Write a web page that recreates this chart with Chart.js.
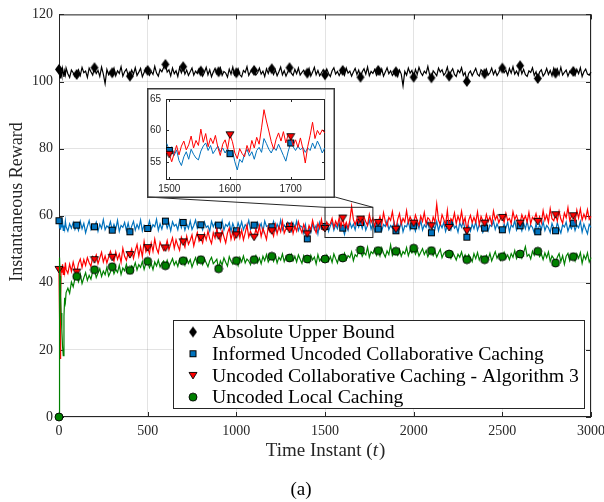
<!DOCTYPE html>
<html>
<head>
<meta charset="utf-8">
<script src="https://cdn.jsdelivr.net/npm/chart.js@4.4.0/dist/chart.umd.min.js"></script>
<style>
  body { margin: 0; background: #fff; }
  #wrap { position: relative; width: 604px; height: 502px; }
  #main { position: absolute; left: 0; top: 0; }
  #inset { position: absolute; left: 147px; top: 88px; }
</style>
</head>
<body>
<div id="wrap">
  <canvas id="main" width="604" height="502"></canvas>
  <canvas id="inset" width="188" height="110"></canvas>
</div>
<script>
// sample times: a few dense ones at the start, then one every 10 from t = 100
const earlyTimes = [0, 3, 6, 9, 12, 16, 20, 24, 28, 32, 36, 40, 50, 60, 70, 80, 90];
const stepTime = 10;

const xTicks = [0, 500, 1000, 1500, 2000, 2500, 3000];
const yTicks = [0, 20, 40, 60, 80, 100, 120];
const insetXTicks = [1500, 1600, 1700];
const insetYTicks = [55, 60, 65];

const seriesNames = [
  'Absolute Upper Bound',
  'Informed Uncoded Collaborative Caching',
  'Uncoded Collaborative Caching - Algorithm 3',
  'Uncoded Local Caching'
];

const upperBound = [
  103.6, 102.2, 101.1, 103.8, 102.5, 101.6, 103.9, 102.8, 101.4, 103.1, 102.0, 104.0, 102.3, 101.2, 103.4, 102.6, 101.5,
  102.1, 103.5, 101.8, 104.2, 102.6, 103.1, 101.2, 104.0, 102.9, 101.9,
  104.1, 102.4, 103.3, 101.5, 104.3, 102.2, 99.4, 103.6, 102.0, 103.0,
  102.6, 104.0, 101.7, 103.2, 102.4, 104.4, 101.6, 102.9, 103.7, 101.9,
  101.6, 103.4, 102.2, 104.1, 101.8, 102.8, 103.9, 101.4, 102.7, 104.0,
  103.3, 101.9, 103.0, 102.1, 104.5, 102.5, 101.6, 103.6, 102.9, 104.2,
  105.1, 102.8, 103.5, 101.7, 104.0, 102.3, 103.2, 101.5, 104.1, 102.6,
  104.4, 102.2, 103.4, 101.8, 102.9, 104.0, 101.9, 103.1, 102.4, 103.8,
  103.1, 101.6, 102.7, 104.2, 102.0, 103.5, 101.4, 102.8, 103.9, 102.3,
  102.9, 104.1, 101.8, 103.0, 102.5, 101.3, 103.7, 102.2, 104.3, 101.9,
  102.6, 103.8, 102.0, 101.4, 103.3, 102.7, 104.4, 101.8, 102.9, 103.5,
  103.3, 101.9, 102.6, 104.0, 102.2, 103.1, 101.5, 103.8, 102.4, 104.1,
  103.8, 102.1, 103.4, 101.7, 102.9, 104.3, 102.0, 103.2, 101.6, 102.8,
  104.1, 102.5, 101.8, 103.6, 102.3, 104.0, 101.9, 102.7, 103.4, 102.1,
  102.5, 103.9, 101.6, 102.8, 104.2, 102.0, 103.3, 101.7, 102.6, 103.5,
  102.0, 103.7, 102.4, 101.5, 103.2, 104.1, 102.2, 103.0, 101.8, 102.9,
  103.3, 101.9, 104.0, 102.5, 103.1, 101.6, 102.8, 103.9, 102.1, 103.4,
  101.3, 102.9, 103.8, 102.2, 104.3, 101.7, 103.0, 102.4, 103.6, 101.9,
  103.3, 102.0, 103.7, 101.6, 102.8, 104.1, 102.3, 103.2, 101.8, 102.6,
  102.9, 101.5, 103.4, 102.2, 98.7, 103.0, 101.9, 104.0, 102.5, 103.3,
  101.3, 103.6, 102.1, 104.2, 102.7, 101.8, 103.1, 102.4, 104.5, 102.0,
  101.1, 103.2, 102.5, 101.7, 104.0, 102.8, 103.5, 101.9, 102.6, 104.3,
  101.6, 102.9, 103.8, 102.1, 101.5, 103.4, 102.6, 104.1, 101.8, 102.7,
  100.0, 102.4, 103.1, 101.7, 102.8, 103.9, 102.2, 101.6, 103.5, 102.9,
  102.3, 103.7, 101.9, 102.6, 104.0, 102.1, 103.3, 101.8, 102.7, 104.2,
  104.0, 102.6, 103.4, 101.8, 103.9, 102.5, 104.4, 102.2, 103.1, 101.9,
  104.7, 102.3, 103.6, 102.0, 101.5, 103.2, 102.7, 104.1, 101.8, 102.9,
  100.9, 102.8, 103.5, 101.6, 102.4, 103.9, 102.1, 103.3, 101.7, 104.0,
  102.5, 103.8, 102.0, 104.2, 101.9, 102.7, 103.4, 101.6, 103.0, 102.4,
  103.0, 101.8, 103.6, 102.3, 104.1, 101.5, 102.9, 103.7, 102.2, 101.9,
  102.8
];

const informed = [
  58.5, 56.2, 57.4, 55.8, 57.9, 56.5, 58.2, 55.6, 57.1, 56.0, 58.4, 56.7, 55.4, 57.6, 56.3, 58.0, 55.9,
  57.2, 55.6, 58.3, 56.1, 57.7, 54.9, 56.8, 58.5, 55.9, 57.3,
  56.7, 58.1, 55.4, 57.5, 56.2, 58.8, 55.8, 57.0, 56.4, 58.2,
  55.7, 57.4, 56.0, 58.6, 55.3, 57.1, 56.5, 58.0, 55.6, 57.8,
  55.2, 56.9, 58.3, 55.7, 57.4, 56.1, 58.7, 55.5, 57.2, 56.6,
  56.2, 58.4, 55.9, 57.3, 56.7, 58.9, 55.6, 57.6, 56.0, 58.1,
  58.4, 56.3, 57.8, 55.5, 58.2, 56.9, 57.4, 55.8, 58.6, 56.4,
  58.0, 55.7, 57.5, 56.2, 58.4, 55.9, 57.1, 58.7, 56.3, 57.6,
  57.3, 55.8, 58.1, 56.5, 57.0, 55.4, 58.3, 56.7, 57.9, 55.6,
  57.2, 56.0, 58.5, 55.7, 57.4, 56.8, 58.0, 55.3, 57.7, 56.2,
  55.5, 57.9, 56.3, 58.2, 55.8, 57.3, 56.6, 58.6, 55.9, 57.1,
  57.2, 55.6, 58.0, 56.4, 57.7, 55.2, 58.4, 56.8, 57.0, 55.9,
  56.7, 58.3, 55.7, 57.5, 56.1, 58.7, 55.8, 57.2, 56.5, 58.0,
  56.9, 55.4, 57.8, 56.2, 58.4, 55.6, 57.0, 56.7, 54.8, 57.3,
  53.1, 56.4, 55.0, 57.6, 55.8, 57.1, 54.6, 58.0, 56.2, 57.4,
  56.8, 57.8, 55.3, 56.9, 58.2, 55.7, 57.3, 56.1, 58.0, 55.9,
  56.3, 54.4, 57.0, 55.6, 58.1, 56.4, 57.5, 55.8, 58.3, 56.6,
  58.0, 56.2, 58.4, 55.7, 57.2, 58.6, 56.0, 57.6, 55.4, 57.9,
  56.0, 58.2, 55.5, 57.4, 56.8, 58.5, 55.9, 57.1, 56.3, 58.0,
  55.5, 57.6, 56.1, 58.3, 55.2, 57.0, 56.7, 58.4, 55.8, 57.3,
  57.0, 55.4, 57.9, 56.2, 58.6, 55.7, 57.3, 56.5, 58.1, 55.6,
  54.9, 57.2, 56.0, 58.3, 55.5, 57.6, 56.4, 58.0, 55.3, 57.1,
  57.7, 55.8, 58.2, 56.3, 57.0, 55.1, 57.9, 56.6, 58.4, 55.7,
  53.6, 56.9, 55.4, 57.5, 56.1, 58.2, 55.6, 57.3, 56.7, 55.0,
  56.3, 58.0, 55.5, 57.2, 56.8, 58.4, 55.9, 57.6, 56.2, 55.4,
  55.8, 57.5, 56.3, 58.1, 55.2, 57.3, 56.6, 58.5, 55.7, 57.0,
  57.0, 55.5, 57.8, 56.1, 58.3, 55.8, 57.2, 56.5, 54.9, 57.6,
  55.2, 57.4, 56.0, 58.2, 55.6, 57.1, 56.4, 55.0, 57.7, 56.3,
  55.5, 57.9, 56.2, 54.8, 57.3, 56.6, 58.1, 55.4, 57.0, 56.1,
  57.8, 55.6, 57.2, 56.4, 58.3, 55.1, 57.5, 56.0, 54.6, 57.4,
  56.5
];

const algorithm3 = [
  44.0, 30.5, 17.5, 36.0, 44.5, 43.0, 45.5, 42.5, 44.8, 43.2, 46.0, 44.0, 42.8, 45.6, 43.4, 46.2, 44.0,
  43.2, 45.8, 47.1, 44.6, 46.9, 45.2, 47.5, 46.0, 44.9, 47.8,
  46.9, 48.3, 45.7, 47.4, 49.1, 46.2, 48.0, 45.9, 47.7, 49.4,
  47.6, 46.4, 49.2, 47.0, 48.6, 46.1, 50.3, 47.9, 46.7, 49.0,
  48.4, 50.1, 47.3, 49.6, 51.4, 48.0, 50.7, 47.8, 52.3, 49.2,
  50.5, 48.7, 51.9, 49.4, 53.0, 50.2, 48.9, 52.1, 50.8, 49.6,
  50.4, 52.6, 49.8, 51.7, 53.4, 50.3, 52.8, 51.1, 49.7, 53.6,
  52.2, 50.6, 53.9, 51.5, 52.7, 54.3, 51.0, 53.2, 55.0, 52.4,
  53.5, 51.9, 54.6, 52.8, 55.4, 53.1, 51.7, 54.9, 53.3, 56.0,
  54.0, 52.4, 55.6, 53.7, 51.9, 54.8, 56.3, 53.0, 55.2, 52.9,
  54.3, 56.1, 53.4, 55.7, 52.8, 54.9, 57.2, 53.6, 55.3, 54.1,
  53.6, 55.9, 54.4, 57.0, 53.8, 56.2, 54.7, 52.9, 56.6, 55.1,
  55.5, 53.9, 57.3, 54.6, 56.8, 55.2, 58.4, 54.8, 56.1, 57.5,
  55.9, 57.8, 54.7, 56.9, 55.4, 58.2, 56.3, 54.9, 57.4, 56.0,
  54.6, 57.1, 55.8, 58.6, 56.4, 54.9, 57.7, 56.2, 58.9, 55.7,
  56.2, 58.1, 56.9, 57.6, 59.2, 56.5, 58.4, 57.0, 59.4, 56.8,
  59.3, 56.7, 58.0, 56.2, 58.6, 62.8, 58.9, 57.3, 59.1, 57.8,
  59.0, 57.5, 59.6, 58.2, 57.1, 60.4, 58.0, 59.3, 56.9, 58.7,
  58.0, 59.8, 57.4, 60.9, 58.3, 57.0, 59.5, 58.6, 61.2, 57.7,
  56.0, 58.9, 60.6, 57.5, 59.2, 58.1, 61.5, 57.9, 59.7, 58.4,
  57.8, 60.2, 58.6, 57.1, 59.9, 58.3, 61.0, 57.6, 59.4, 58.8,
  57.0, 59.6, 58.1, 63.5, 58.7, 57.4, 60.3, 58.9, 57.2, 61.6,
  56.5, 59.1, 58.4, 60.8, 57.6, 59.9, 58.2, 61.3, 57.8, 59.4,
  55.5, 58.6, 60.1, 57.9, 59.5, 58.0, 61.1, 57.3, 59.8, 58.5,
  57.8, 60.4, 58.3, 59.7, 57.5, 61.4, 58.8, 60.0, 57.9, 59.3,
  59.5, 58.0, 60.7, 58.6, 59.2, 57.7, 61.2, 58.9, 60.1, 58.4,
  57.8, 60.3, 58.7, 59.9, 58.1, 61.0, 57.6, 59.5, 58.8, 60.6,
  58.3, 59.7, 57.9, 61.5, 58.6, 60.2, 58.0, 62.1, 59.1, 58.5,
  60.3, 58.4, 61.3, 59.0, 57.8, 60.8, 59.4, 62.4, 58.6, 60.0,
  60.0, 58.2, 61.7, 59.3, 62.0, 58.7, 60.5, 59.1, 61.8, 58.9,
  59.8
];

const localCaching = [
  0.0, 47.5, 42.0, 36.0, 31.0, 26.0, 21.0, 18.3, 30.0, 35.5, 34.2, 37.1, 38.4, 36.9, 40.2, 38.8, 41.3,
  41.9, 40.3, 42.6, 39.8, 41.5, 43.0, 40.7, 42.2, 41.1, 43.4,
  43.9, 41.6, 42.9, 44.2, 41.9, 43.5, 42.4, 44.6, 42.0, 43.2,
  44.8, 42.7, 44.0, 43.1, 45.2, 42.5, 44.4, 43.6, 45.5, 43.0,
  43.7, 45.1, 44.3, 46.0, 43.8, 45.4, 44.6, 46.3, 44.0, 45.8,
  46.4, 44.5, 45.7, 43.9, 46.2, 45.0, 46.8, 44.7, 45.9, 46.5,
  45.1, 46.7, 44.8, 46.0, 47.2, 45.3, 46.4, 44.9, 47.0, 45.6,
  46.6, 45.2, 47.3, 45.8, 46.9, 44.7, 46.2, 47.5, 45.5, 46.8,
  46.9, 45.4, 47.1, 46.0, 44.8, 46.6, 47.6, 45.7, 46.3, 47.0,
  44.2, 46.5, 45.3, 47.4, 46.1, 45.0, 47.8, 46.4, 45.6, 47.2,
  46.6, 45.1, 47.5, 46.2, 48.0, 45.9, 47.1, 46.5, 45.4, 47.7,
  46.9, 48.1, 46.0, 47.4, 45.7, 47.9, 46.6, 48.4, 46.2, 47.3,
  47.9, 46.4, 48.2, 45.9, 47.6, 46.8, 48.6, 46.3, 47.8, 46.7,
  47.4, 48.5, 46.6, 47.9, 46.2, 48.3, 47.0, 45.8, 48.1, 46.9,
  47.1, 46.0, 48.2, 46.8, 47.7, 45.6, 48.4, 46.5, 47.3, 48.0,
  47.1, 48.3, 46.4, 47.8, 46.1, 48.6, 47.2, 45.9, 48.0, 46.7,
  47.4, 48.8, 46.9, 48.1, 47.5, 49.2, 46.6, 48.4, 47.8, 49.5,
  49.8, 47.9, 49.0, 48.3, 50.6, 47.6, 49.3, 48.7, 50.1, 48.2,
  49.6, 48.0, 50.4, 48.8, 47.7, 49.5, 48.4, 51.3, 48.1, 49.2,
  49.4, 48.2, 50.0, 47.9, 49.3, 48.6, 50.5, 48.1, 49.7, 48.9,
  50.3, 48.5, 49.8, 48.0, 49.1, 50.2, 48.4, 49.6, 47.8, 49.0,
  49.6, 48.1, 49.4, 47.7, 48.9, 50.0, 47.5, 48.8, 49.3, 47.9,
  48.6, 47.3, 49.1, 48.0, 46.8, 48.5, 47.6, 49.2, 47.1, 48.3,
  46.9, 48.4, 47.5, 46.3, 48.7, 47.2, 49.0, 46.8, 48.1, 47.4,
  46.9, 48.2, 47.0, 48.8, 46.5, 47.9, 49.3, 47.3, 48.5, 46.7,
  47.8, 49.1, 47.4, 48.3, 46.9, 48.7, 47.6, 49.6, 47.2, 48.4,
  48.6, 47.3, 49.0, 50.8, 47.9, 48.5, 47.1, 49.4, 48.2, 50.1,
  49.4, 47.8, 48.6, 46.9, 48.9, 47.5, 49.2, 46.4, 48.0, 47.2,
  45.9, 47.6, 48.7, 46.3, 48.1, 45.5, 47.9, 48.8, 46.6, 48.3,
  47.8, 46.5, 48.6, 47.3, 49.0, 45.8, 48.2, 47.0, 48.9, 46.2,
  47.5
];

// zoomed window, one sample every 4 from t = 1496
const insetStart = 1496;
const insetStep = 4;
const insetInformed = [
  57.9, 56.8, 57.4, 56.0, 56.9, 55.2, 54.4, 55.8, 56.6, 55.4, 57.0, 56.2, 55.6, 55.3, 56.7, 57.5,
  58.0, 56.8, 57.6, 56.3, 56.9, 57.5, 56.6, 57.2, 56.4, 57.1, 56.3, 56.8, 55.0, 53.7, 55.4, 54.9,
  56.2, 57.0, 55.9, 56.6, 55.4, 56.8, 57.3, 56.5, 58.7, 57.9, 57.0, 56.4, 57.3, 56.8, 57.8, 56.9,
  56.0, 55.1, 56.7, 58.0, 57.4, 56.8, 57.5, 56.9, 57.3, 56.5, 57.2, 56.8, 58.0, 57.1, 58.3, 57.5,
  56.4, 57.2
];
const insetAlgorithm3 = [
  56.8, 56.2, 55.0, 56.3, 57.6, 56.1, 57.5, 58.3, 56.9, 57.7, 59.1, 57.2, 58.4, 57.6, 60.2, 58.1,
  59.5, 57.4, 58.8, 57.9, 59.2, 57.3, 56.0, 57.8, 58.5, 57.0, 59.3, 58.2, 56.4, 55.5, 57.1, 56.3,
  55.8, 57.6, 56.5, 58.4, 57.2, 58.9, 57.8, 60.4, 63.3, 61.5, 59.9, 58.2, 57.0, 58.6, 59.6, 58.3,
  59.8, 58.0, 59.4, 59.0, 57.6, 58.5, 57.3, 58.8, 57.1, 54.8, 57.4, 59.2, 61.3, 58.7, 60.0, 59.3,
  60.1, 59.6
];

function timeAt(i) {
  return i < earlyTimes.length ? earlyTimes[i] : 100 + (i - earlyTimes.length) * stepTime;
}
const toPoints = arr => arr.map((v, i) => ({ x: timeAt(i), y: v }));
const toInsetPoints = arr => arr.map((v, i) => ({ x: insetStart + i * insetStep, y: v }));

// marker images
function makeMarker(w, h, draw) {
  const c = document.createElement('canvas');
  c.width = w; c.height = h;
  draw(c.getContext('2d'));
  return c;
}
const diamond = makeMarker(10, 13, g => {
  g.beginPath(); g.moveTo(5, 1); g.lineTo(9, 6.5); g.lineTo(5, 12); g.lineTo(1, 6.5); g.closePath();
  g.fillStyle = '#000'; g.fill();
});
const square = makeMarker(9, 9, g => {
  g.fillStyle = '#0072BD'; g.fillRect(1, 1, 7, 7);
  g.strokeStyle = '#000'; g.lineWidth = 1; g.strokeRect(1.5, 1.5, 6, 6);
});
const triangle = makeMarker(10, 9, g => {
  g.beginPath(); g.moveTo(1, 1.5); g.lineTo(9, 1.5); g.lineTo(5, 8); g.closePath();
  g.fillStyle = '#FF0000'; g.fill(); g.strokeStyle = '#000'; g.lineWidth = 0.9; g.stroke();
});
const circle = makeMarker(10, 10, g => {
  g.beginPath(); g.arc(5, 5, 4, 0, Math.PI * 2);
  g.fillStyle = '#008000'; g.fill(); g.strokeStyle = '#000'; g.lineWidth = 0.9; g.stroke();
});

const colors = ['#000000', '#0072BD', '#FF0000', '#008000'];
const markers = [diamond, square, triangle, circle];
const everyHundred = c => (c.raw && c.raw.x % 100 === 0 && c.raw.x < 3000) ? 4 : 0;

function series(data, k, order) {
  return {
    label: seriesNames[k],
    data: data,
    borderColor: colors[k],
    borderWidth: 1.2,
    pointStyle: markers[k],
    pointRadius: everyHundred,
    pointHoverRadius: 0,
    tension: 0,
    clip: false,
    order: order
  };
}

const serif = "'Liberation Serif', 'Times New Roman', serif";
const axisGray = '#262626';
const plainNumber = v => String(v);

function boxAndTicks(chart, len) {
  const { ctx, chartArea: a, scales: { x, y } } = chart;
  ctx.save();
  ctx.strokeStyle = axisGray;
  ctx.lineWidth = 1;
  ctx.strokeRect(a.left + 0.5, a.top + 0.5, a.right - a.left - 1, a.bottom - a.top - 1);
  ctx.beginPath();
  x.ticks.forEach(t => {
    const px = Math.round(x.getPixelForValue(t.value)) + 0.5;
    ctx.moveTo(px, a.bottom); ctx.lineTo(px, a.bottom - len);
    ctx.moveTo(px, a.top); ctx.lineTo(px, a.top + len);
  });
  y.ticks.forEach(t => {
    const py = Math.round(y.getPixelForValue(t.value)) + 0.5;
    ctx.moveTo(a.left, py); ctx.lineTo(a.left + len, py);
    ctx.moveTo(a.right, py); ctx.lineTo(a.right - len, py);
  });
  ctx.stroke();
  ctx.restore();
}

const zoomBox = { x0: 1500, x1: 1770, y0: 53.5, y1: 62.5 };
const insetBox = { left: 147, top: 88, right: 335, bottom: 197 };

const decorations = {
  id: 'decorations',
  beforeDatasetsDraw(chart) {
    boxAndTicks(chart, 5);
  },
  afterDatasetsDraw(chart) {
    const { ctx, scales: { x, y } } = chart;
    ctx.save();
    // zoom rectangle and connectors
    const rx0 = x.getPixelForValue(zoomBox.x0), rx1 = x.getPixelForValue(zoomBox.x1);
    const ry0 = y.getPixelForValue(zoomBox.y1), ry1 = y.getPixelForValue(zoomBox.y0);
    ctx.strokeStyle = axisGray;
    ctx.lineWidth = 1;
    ctx.strokeRect(rx0, ry0, rx1 - rx0, ry1 - ry0);
    ctx.beginPath();
    ctx.moveTo(insetBox.left, insetBox.bottom); ctx.lineTo(rx0, ry0);
    ctx.moveTo(insetBox.right, insetBox.bottom); ctx.lineTo(rx1, ry0);
    ctx.stroke();

    // legend
    const lx = 173.5, ly = 320.5, lw = 411, lh = 88;
    ctx.fillStyle = '#fff';
    ctx.fillRect(lx, ly, lw, lh);
    ctx.strokeStyle = axisGray;
    ctx.strokeRect(lx, ly, lw, lh);
    ctx.font = '19.7px ' + serif;
    ctx.textBaseline = 'middle';
    ctx.textAlign = 'left';
    ctx.fillStyle = '#000';
    seriesNames.forEach((name, k) => {
      const cy = 332 + k * 21.7;
      const m = markers[k];
      ctx.drawImage(m, 193 - m.width / 2, cy - m.height / 2);
      ctx.fillText(name, 212, cy + 1);
    });
    ctx.restore();
  },
  afterDraw(chart) {
    const { ctx } = chart;
    ctx.save();
    ctx.fillStyle = axisGray;
    ctx.textBaseline = 'middle';
    ctx.textAlign = 'center';
    ctx.font = '18px ' + serif;
    ctx.save();
    ctx.translate(17, 202);
    ctx.rotate(-Math.PI / 2);
    ctx.fillText('Instantaneous Reward', 0, 0);
    ctx.restore();

    const a = 'Time Instant (', b = 't', c = ')';
    const f = '19px ' + serif, fi = 'italic 19px ' + serif;
    ctx.textAlign = 'left';
    ctx.font = f;
    const wa = ctx.measureText(a).width, wc = ctx.measureText(c).width;
    ctx.font = fi;
    const wb = ctx.measureText(b).width;
    const sx = 325 - (wa + wb + wc) / 2;
    ctx.font = f;
    ctx.fillText(a, sx, 451);
    ctx.font = fi;
    ctx.fillText(b, sx + wa, 451);
    ctx.font = f;
    ctx.fillText(c, sx + wa + wb + 1, 451);

    ctx.textAlign = 'center';
    ctx.fillStyle = '#000';
    ctx.font = '19px ' + serif;
    ctx.fillText('(a)', 301, 490);
    ctx.restore();
  }
};

new Chart(document.getElementById('main'), {
  type: 'line',
  data: {
    datasets: [
      series(toPoints(upperBound), 0, 4),
      series(toPoints(informed), 1, 3),
      series(toPoints(algorithm3), 2, 2),
      series(toPoints(localCaching), 3, 1)
    ]
  },
  options: {
    responsive: false,
    animation: false,
    events: [],
    layout: { padding: { left: 0, top: 13, right: 13, bottom: 0 } },
    plugins: { legend: { display: false }, tooltip: { enabled: false } },
    scales: {
      x: {
        type: 'linear',
        min: 0,
        max: 3000,
        afterBuildTicks: s => { s.ticks = xTicks.map(v => ({ value: v })); },
        afterFit: s => { s.height = 85; s.paddingLeft = 0; s.paddingRight = 0; },
        grid: { color: 'rgba(0,0,0,0.11)', drawTicks: false },
        border: { display: false },
        ticks: { padding: 6, color: axisGray, font: { family: serif, size: 14 }, callback: plainNumber }
      },
      y: {
        type: 'linear',
        min: 0,
        max: 120,
        afterBuildTicks: s => { s.ticks = yTicks.map(v => ({ value: v })); },
        afterFit: s => { s.width = 59; },
        grid: { color: 'rgba(0,0,0,0.11)', drawTicks: false },
        border: { display: false },
        ticks: { padding: 6, color: axisGray, font: { family: serif, size: 14 }, callback: plainNumber }
      }
    }
  },
  plugins: [decorations]
});

const insetFrame = {
  id: 'insetFrame',
  beforeDatasetsDraw(chart) {
    const { ctx } = chart;
    ctx.save();
    ctx.strokeStyle = '#3a3a3a';
    ctx.lineWidth = 1.5;
    ctx.strokeRect(0.75, 0.75, chart.width - 1.5, chart.height - 1.5);
    ctx.restore();
    boxAndTicks(chart, 3);
  }
};

const insetSeries = (data, k, order) => Object.assign(series(data, k, order), {
  pointRadius: c => (c.raw && c.raw.x % 100 === 0) ? 4 : 0,
  borderWidth: 1,
  clip: true
});

const sans = "'Liberation Sans', Arial, sans-serif";
new Chart(document.getElementById('inset'), {
  type: 'line',
  data: {
    datasets: [
      insetSeries(toInsetPoints(insetInformed), 1, 2),
      insetSeries(toInsetPoints(insetAlgorithm3), 2, 1)
    ]
  },
  options: {
    responsive: false,
    animation: false,
    events: [],
    layout: { padding: { left: 0, top: 8, right: 10, bottom: 0 } },
    plugins: { legend: { display: false }, tooltip: { enabled: false } },
    scales: {
      x: {
        type: 'linear',
        min: 1494.6,
        max: 1756.5,
        afterBuildTicks: s => { s.ticks = insetXTicks.map(v => ({ value: v })); },
        afterFit: s => { s.height = 18; s.paddingLeft = 0; s.paddingRight = 0; },
        grid: { display: false, drawTicks: false },
        border: { display: false },
        ticks: { padding: 3, color: axisGray, font: { family: sans, size: 10 }, callback: plainNumber }
      },
      y: {
        type: 'linear',
        min: 52.1,
        max: 65,
        afterBuildTicks: s => { s.ticks = insetYTicks.map(v => ({ value: v })); },
        afterFit: s => { s.width = 19; },
        grid: { display: false, drawTicks: false },
        border: { display: false },
        ticks: { padding: 5, color: axisGray, font: { family: sans, size: 10 }, callback: plainNumber }
      }
    }
  },
  plugins: [insetFrame]
});
</script>
</body>
</html>
